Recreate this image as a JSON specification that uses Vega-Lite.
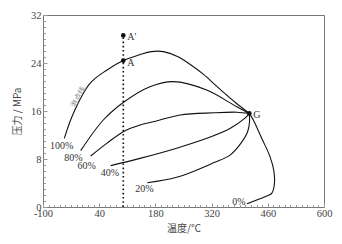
{
  "$schema": "https://vega.github.io/schema/vega-lite/v6.json",
  "width": 281,
  "height": 192,
  "autosize": "none",
  "padding": {"left": 43, "top": 15, "right": 18, "bottom": 37},
  "background": "white",
  "config": {
    "view": {"stroke": "#777", "strokeWidth": 1},
    "axis": {
      "grid": false,
      "domain": false,
      "labelFont": "Liberation Serif",
      "labelFontSize": 10.5,
      "labelColor": "#444",
      "labelFlush": false,
      "labelOverlap": false,
      "tickColor": "#999",
      "titleFont": "Noto Sans CJK SC",
      "titleFontSize": 10,
      "titleFontWeight": "normal",
      "titleColor": "#444"
    }
  },
  "resolve": {"axis": {"x": "independent", "y": "independent"}},
  "datasets": {
    "curves": [
      {"s": "100%", "o": 1, "T": -46.9, "P": 11.45},
      {"s": "100%", "o": 2, "T": -24.5, "P": 15.6},
      {"s": "100%", "o": 3, "T": 17.1, "P": 20.6},
      {"s": "100%", "o": 4, "T": 58.7, "P": 22.8},
      {"s": "100%", "o": 5, "T": 100, "P": 24.4},
      {"s": "100%", "o": 6, "T": 141.6, "P": 25.4},
      {"s": "100%", "o": 7, "T": 170, "P": 25.9},
      {"s": "100%", "o": 8, "T": 200, "P": 25.9},
      {"s": "100%", "o": 9, "T": 235, "P": 25.1},
      {"s": "100%", "o": 10, "T": 266, "P": 23.8},
      {"s": "100%", "o": 11, "T": 300, "P": 22.1},
      {"s": "100%", "o": 12, "T": 333, "P": 20.1},
      {"s": "100%", "o": 13, "T": 360, "P": 18.5},
      {"s": "100%", "o": 14, "T": 383, "P": 17.2},
      {"s": "100%", "o": 15, "T": 414, "P": 15.6},
      {"s": "80%", "o": 1, "T": -6.1, "P": 9.4},
      {"s": "80%", "o": 2, "T": 50.2, "P": 14.5},
      {"s": "80%", "o": 3, "T": 102.5, "P": 17.55},
      {"s": "80%", "o": 4, "T": 166.5, "P": 20.05},
      {"s": "80%", "o": 5, "T": 224.6, "P": 20.9},
      {"s": "80%", "o": 6, "T": 307.8, "P": 19.5},
      {"s": "80%", "o": 7, "T": 382.5, "P": 16.7},
      {"s": "80%", "o": 8, "T": 414, "P": 15.6},
      {"s": "60%", "o": 1, "T": 18.8, "P": 8.5},
      {"s": "60%", "o": 2, "T": 58.7, "P": 10.6},
      {"s": "60%", "o": 3, "T": 100, "P": 12.55},
      {"s": "60%", "o": 4, "T": 141.6, "P": 13.67},
      {"s": "60%", "o": 5, "T": 174.8, "P": 14.2},
      {"s": "60%", "o": 6, "T": 241.3, "P": 15.33},
      {"s": "60%", "o": 7, "T": 324.2, "P": 15.7},
      {"s": "60%", "o": 8, "T": 382.5, "P": 15.8},
      {"s": "60%", "o": 9, "T": 414, "P": 15.6},
      {"s": "40%", "o": 1, "T": 68.6, "P": 6.9},
      {"s": "40%", "o": 2, "T": 141.6, "P": 8.1},
      {"s": "40%", "o": 3, "T": 233, "P": 9.8},
      {"s": "40%", "o": 4, "T": 307.8, "P": 11.45},
      {"s": "40%", "o": 5, "T": 365.8, "P": 13.1},
      {"s": "40%", "o": 6, "T": 403.2, "P": 14.8},
      {"s": "40%", "o": 7, "T": 414, "P": 15.6},
      {"s": "20%", "o": 1, "T": 159.8, "P": 4.05},
      {"s": "20%", "o": 2, "T": 233, "P": 4.95},
      {"s": "20%", "o": 3, "T": 326, "P": 7.4},
      {"s": "20%", "o": 4, "T": 365.8, "P": 8.65},
      {"s": "20%", "o": 5, "T": 393.2, "P": 10.65},
      {"s": "20%", "o": 6, "T": 409.5, "P": 12.5},
      {"s": "20%", "o": 7, "T": 414.5, "P": 14.2},
      {"s": "20%", "o": 8, "T": 414, "P": 15.6},
      {"s": "0%", "o": 1, "T": 414, "P": 15.6},
      {"s": "0%", "o": 2, "T": 424, "P": 14.5},
      {"s": "0%", "o": 3, "T": 444.8, "P": 11.45},
      {"s": "0%", "o": 4, "T": 465.5, "P": 8.4},
      {"s": "0%", "o": 5, "T": 475.4, "P": 5.9},
      {"s": "0%", "o": 6, "T": 476.2, "P": 3.67},
      {"s": "0%", "o": 7, "T": 469.7, "P": 2.28},
      {"s": "0%", "o": 8, "T": 460.5, "P": 1.9},
      {"s": "0%", "o": 9, "T": 408.2, "P": 0.55}
    ],
    "labels": [
      {"t": "100%", "T": -53.5, "P": 10.2},
      {"t": "80%", "T": -24.5, "P": 8.2},
      {"t": "60%", "T": 8.9, "P": 6.8},
      {"t": "40%", "T": 66.9, "P": 5.7},
      {"t": "20%", "T": 152.4, "P": 2.95},
      {"t": "0%", "T": 388.2, "P": 0.9}
    ],
    "points": [
      {"t": "A", "T": 100, "P": 24.4},
      {"t": "A'", "T": 100, "P": 28.6},
      {"t": "G", "T": 414, "P": 15.6}
    ],
    "dotted": [{"T": 100, "P0": 0, "P1": 28.6}],
    "curvename": [{"t": "泡点线", "T": -11.5, "P": 18.3}]
  },
  "layer": [
    {
      "data": {"name": "curves"},
      "mark": {"type": "line", "interpolate": "catmull-rom", "color": "#111", "strokeWidth": 1.1},
      "encoding": {
        "x": {
          "field": "T", "type": "quantitative",
          "scale": {"domain": [-100, 600], "nice": false, "zero": false},
          "axis": {
            "orient": "bottom",
            "title": null,
            "labels": false,
            "values": [-100,-86,-72,-58,-44,-30,-16,-2,12,26,40,54,68,82,96,110,124,138,152,166,180,194,208,222,236,250,264,278,292,306,320,334,348,362,376,390,404,418,432,446,460,474,488,502,516,530,544,558,572,586,600],
            "tickSize": -2.5
          }
        },
        "y": {
          "field": "P", "type": "quantitative",
          "scale": {"domain": [0, 32], "nice": false},
          "axis": {
            "orient": "left",
            "title": null,
            "labels": false,
            "values": [0,1,2,3,4,5,6,7,8,9,10,11,12,13,14,15,16,17,18,19,20,21,22,23,24,25,26,27,28,29,30,31,32],
            "tickSize": -2.5
          }
        },
        "detail": {"field": "s"},
        "order": {"field": "o", "type": "quantitative"}
      }
    },
    {
      "data": {"name": "dotted"},
      "mark": {"type": "rule", "color": "#111", "strokeWidth": 1.6, "strokeDash": [1.6, 2.6]},
      "encoding": {
        "x": {"field": "T", "type": "quantitative", "axis": {
            "orient": "bottom",
            "title": "温度/℃",
            "values": [-100, 40, 180, 320, 460, 600],
            "labelExpr": "replace(datum.label, '−', '-')",
            "tickSize": -4,
            "labelPadding": 5,
            "labelAlign": "center",
            "titlePadding": 5
          }},
        "y": {"field": "P0", "type": "quantitative", "axis": {
            "orient": "left",
            "title": "压力 / MPa",
            "values": [0, 8, 16, 24, 32],
            "tickSize": -4,
            "labelPadding": 6,
            "titlePadding": 8
          }},
        "y2": {"field": "P1"}
      }
    },
    {
      "data": {"name": "points"},
      "mark": {"type": "circle", "color": "#111", "size": 22, "opacity": 1},
      "encoding": {
        "x": {"field": "T", "type": "quantitative", "axis": null},
        "y": {"field": "P", "type": "quantitative", "axis": null}
      }
    },
    {
      "data": {"name": "points"},
      "mark": {"type": "text", "font": "Liberation Serif", "fontSize": 10, "align": "left", "dx": 4, "dy": 2, "color": "#333"},
      "encoding": {
        "x": {"field": "T", "type": "quantitative", "axis": null},
        "y": {"field": "P", "type": "quantitative", "axis": null},
        "text": {"field": "t"}
      }
    },
    {
      "data": {"name": "labels"},
      "mark": {"type": "text", "font": "Liberation Serif", "fontSize": 10, "color": "#333"},
      "encoding": {
        "x": {"field": "T", "type": "quantitative", "axis": null},
        "y": {"field": "P", "type": "quantitative", "axis": null},
        "text": {"field": "t"}
      }
    },
    {
      "data": {"name": "curvename"},
      "mark": {"type": "text", "font": "Noto Sans CJK SC", "fontSize": 7.5, "angle": -61, "color": "#888"},
      "encoding": {
        "x": {"field": "T", "type": "quantitative", "axis": null},
        "y": {"field": "P", "type": "quantitative", "axis": null},
        "text": {"field": "t"}
      }
    }
  ]
}
